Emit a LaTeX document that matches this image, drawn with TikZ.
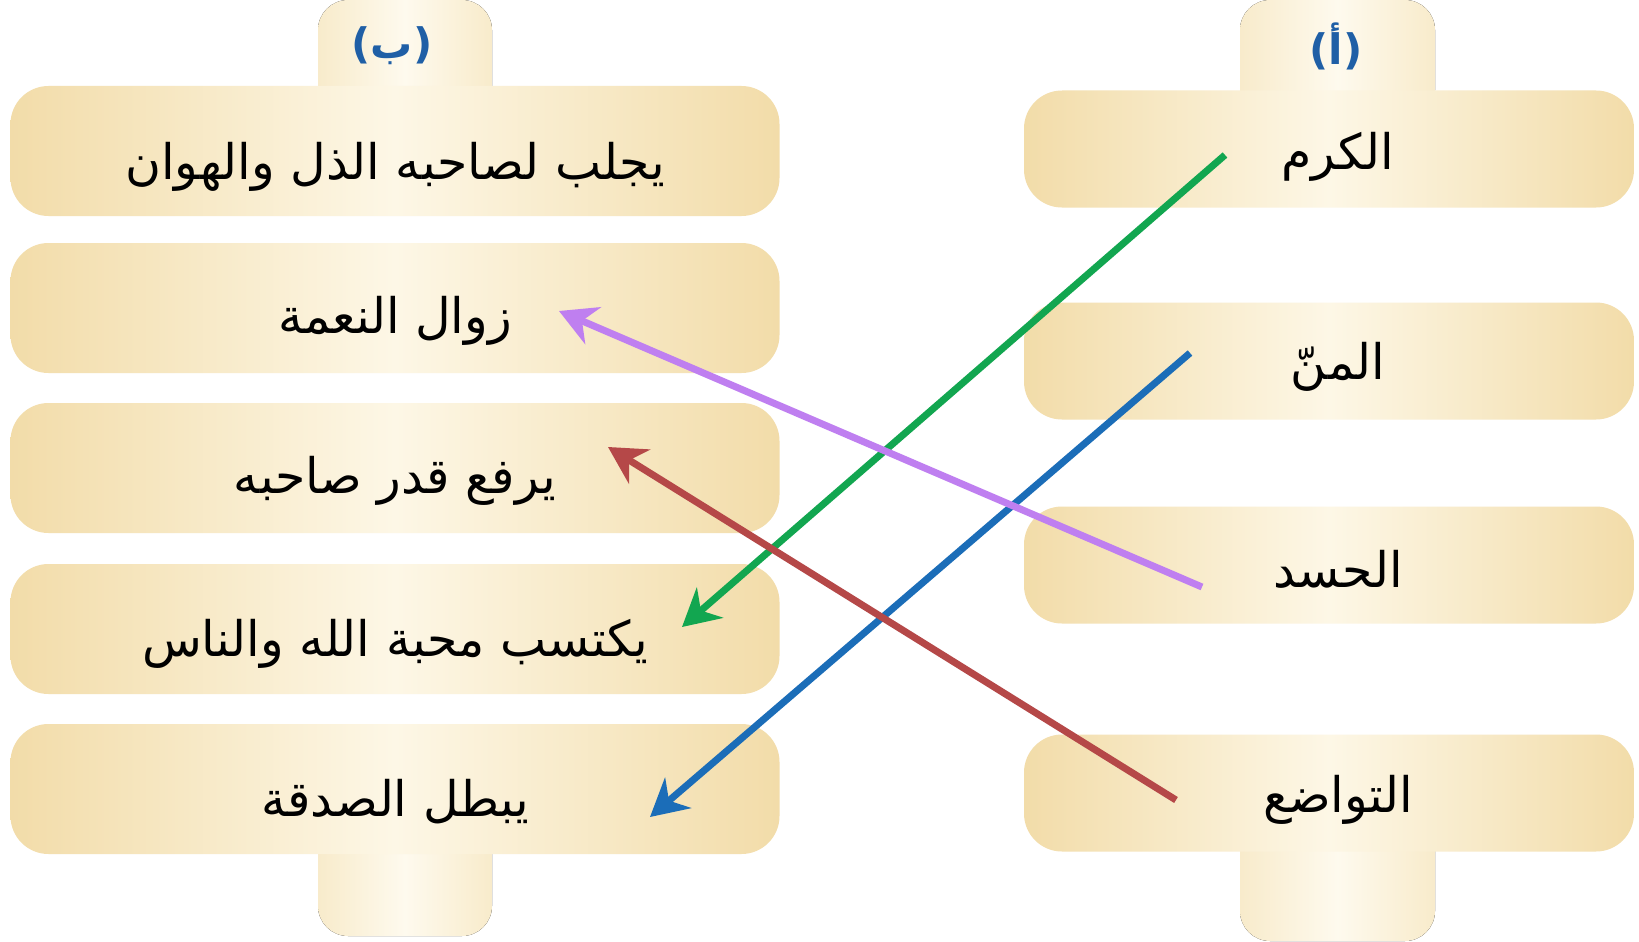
\documentclass[tikz,border=0pt]{standalone}
\usepackage{fontspec}
\TeXXeTstate=1
\newfontfamily\arabicfont[Script=Arabic]{DejaVu Sans}
\usetikzlibrary{arrows.meta}
\definecolor{boxedge}{HTML}{F2DCA9}
\definecolor{boxmid}{HTML}{FDF7E6}
\definecolor{tabedge}{HTML}{F8EBCB}
\definecolor{tabmid}{HTML}{FEFAEE}
\definecolor{hdrblue}{HTML}{1F5FA6}
\definecolor{cgreen}{HTML}{12A650}
\definecolor{cblue}{HTML}{1B6DB8}
\definecolor{cpurple}{HTML}{BF7FF0}
\definecolor{cred}{HTML}{B54848}
\newcommand{\lowtxt}[2]{\raisebox{-#1}[0pt][0pt]{#2}}
\begin{document}
\begin{tikzpicture}[x=1pt,y=-1pt,
  card/.style={rectangle, rounded corners=38pt, inner sep=0pt,
    left color=boxedge, right color=boxedge, middle color=boxmid,
    font=\arabicfont\fontsize{49}{56}\selectfont},
  lcard/.style={card, minimum width=769pt, minimum height=130pt},
  rcard/.style={card, minimum width=610pt, minimum height=117pt},
  tab/.style={left color=tabedge, right color=tabedge, middle color=tabmid, rounded corners=30pt},
  hdr/.style={text=hdrblue, inner sep=0pt, font=\arabicfont\bfseries\fontsize{42}{48}\selectfont},
  link/.style={line width=7pt, -{Stealth[length=37pt,width=40pt,inset=12pt]}}
]
\useasboundingbox (0,0) rectangle (1639,942);
\fill[white] (0,0) rectangle (1639,942);

% tabs behind the columns
\fill[tab] (318,0) rectangle (492,120);
\fill[tab] (318,810) rectangle (492,936);
\fill[tab] (1240,0) rectangle (1435,120);
\fill[tab] (1240,810) rectangle (1435,941);

\node[hdr] (hb) at (392,46) {(ب)};
\node[hdr] (ha) at (1336,46) {(أ)};

% column (ب)
\node[lcard] (b1) at (395,151) {\lowtxt{28pt}{\beginR يجلب لصاحبه الذل والهوان\endR}};
\node[lcard] (b2) at (395,308) {\lowtxt{25pt}{\beginR زوال النعمة\endR}};
\node[lcard] (b3) at (395,468) {\lowtxt{25pt}{\beginR يرفع قدر صاحبه\endR}};
\node[lcard] (b4) at (395,629) {\lowtxt{27pt}{\beginR يكتسب محبة الله والناس\endR}};
\node[lcard] (b5) at (395,789) {\lowtxt{27pt}{\beginR يبطل الصدقة\endR}};

% column (أ)
\node[rcard] (a1) at (1329,149) {\hspace{18pt}\lowtxt{20pt}{\beginR الكرم\endR}};
\node[rcard] (a2) at (1329,361) {\hspace{18pt}\lowtxt{18pt}{\beginR المنّ\endR}};
\node[rcard] (a3) at (1329,565) {\hspace{18pt}\lowtxt{22pt}{\beginR الحسد\endR}};
\node[rcard] (a4) at (1329,793) {\hspace{18pt}\lowtxt{19pt}{\beginR التواضع\endR}};

% connector ends
\coordinate (gS) at (1225,155);
\coordinate (gE) at (682,627);
\coordinate (uS) at (1190,353);
\coordinate (uE) at (650,817);
\coordinate (rS) at (1176,800);
\coordinate (rE) at (608,447);
\coordinate (pS) at (1202,587);
\coordinate (pE) at (559,311);

\draw[link, cgreen] (gS) -- (gE);
\draw[link, cblue] (uS) -- (uE);
\draw[link, cred] (rS) -- (rE);
\draw[link, cpurple] (pS) -- (pE);
\end{tikzpicture}
\end{document}
